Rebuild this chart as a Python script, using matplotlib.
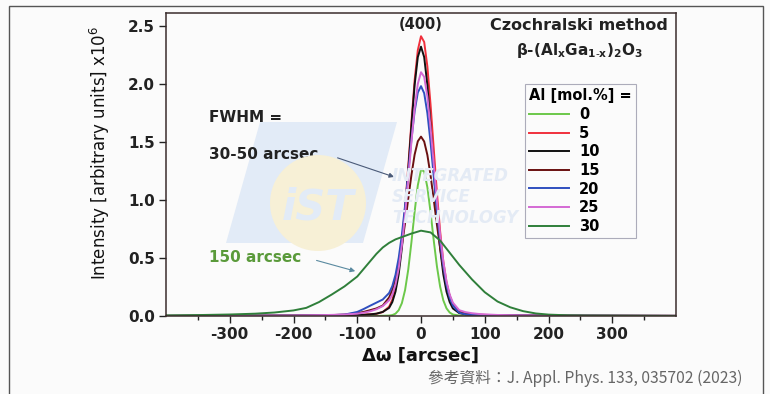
import matplotlib
matplotlib.use("Agg")
import matplotlib.pyplot as plt
from matplotlib.patches import Rectangle, Polygon, Ellipse

plt.rcParams['font.family'] = ['DejaVu Sans']

# ---------------- data ----------------
x_narrow = [-400, -300, -200, -150, -120, -100, -90, -80, -70, -60, -50, -45, -40, -35,
            -30, -25, -20, -15, -10, -5, 0, 5, 10, 15, 20, 25, 30, 35, 40, 45, 50,
            60, 70, 80, 90, 100, 120, 150, 200, 300, 400]

al_0 = [0, 0, 0.001, 0.001, 0.001, 0.001, 0.001, 0.001, 0.001, 0.002, 0.004, 0.008, 0.02, 0.05,
        0.111, 0.223, 0.40, 0.636, 0.898, 1.126, 1.26, 1.245, 1.109, 0.894, 0.65, 0.427, 0.253, 0.135, 0.066, 0.03, 0.013,
        0.004, 0.002, 0.001, 0.001, 0.001, 0.001, 0.001, 0.001, 0, 0]
al_5 = [0.001, 0.002, 0.003, 0.005, 0.007, 0.010, 0.012, 0.015, 0.019, 0.034, 0.08, 0.14, 0.24, 0.40,
        0.63, 0.93, 1.29, 1.67, 2.03, 2.29, 2.41, 2.36, 2.15, 1.82, 1.44, 1.06, 0.73, 0.47, 0.29, 0.17, 0.10,
        0.04, 0.022, 0.015, 0.012, 0.010, 0.007, 0.005, 0.003, 0.002, 0.001]
al_10 = [0.001, 0.002, 0.003, 0.004, 0.006, 0.008, 0.010, 0.014, 0.020, 0.035, 0.07, 0.12, 0.21, 0.36,
         0.585, 0.89, 1.255, 1.64, 1.99, 2.23, 2.32, 2.23, 1.99, 1.64, 1.255, 0.89, 0.585, 0.36, 0.21, 0.12, 0.065,
         0.025, 0.015, 0.011, 0.009, 0.007, 0.005, 0.004, 0.003, 0.002, 0.001]
al_15 = [0.001, 0.002, 0.003, 0.006, 0.012, 0.025, 0.035, 0.05, 0.065, 0.09, 0.16, 0.225, 0.32, 0.45,
         0.61, 0.80, 1.01, 1.215, 1.39, 1.505, 1.545, 1.503, 1.387, 1.211, 1.002, 0.786, 0.584, 0.411, 0.274, 0.173, 0.103,
         0.035, 0.015, 0.009, 0.007, 0.006, 0.005, 0.004, 0.003, 0.002, 0.001]
al_20 = [0.001, 0.002, 0.003, 0.005, 0.012, 0.035, 0.06, 0.088, 0.115, 0.142, 0.198, 0.258, 0.355, 0.50,
         0.70, 0.95, 1.234, 1.52, 1.763, 1.925, 1.98, 1.919, 1.747, 1.495, 1.201, 0.907, 0.643, 0.428, 0.268, 0.158, 0.09,
         0.028, 0.014, 0.01, 0.008, 0.006, 0.005, 0.004, 0.003, 0.002, 0.001]
al_25 = [0.001, 0.002, 0.004, 0.008, 0.013, 0.02, 0.028, 0.04, 0.058, 0.085, 0.135, 0.185, 0.27, 0.41,
         0.61, 0.87, 1.18, 1.50, 1.79, 2.00, 2.10, 2.06, 1.89, 1.62, 1.31, 0.99, 0.70, 0.47, 0.30, 0.185, 0.115,
         0.05, 0.033, 0.024, 0.018, 0.014, 0.009, 0.006, 0.004, 0.002, 0.001]

x_broad = [-400, -350, -300, -260, -230, -200, -180, -160, -140, -120, -100, -80, -70, -60, -50, -40, -30, -15,
           0, 15, 30, 45, 60, 80, 100, 120, 140, 160, 180, 200, 230, 260, 300, 350, 400]
al_30 = [0.005, 0.008, 0.013, 0.02, 0.03, 0.048, 0.07, 0.12, 0.185, 0.255, 0.34, 0.47, 0.535, 0.59, 0.63, 0.66, 0.68, 0.71,
         0.735, 0.72, 0.65, 0.545, 0.44, 0.315, 0.205, 0.125, 0.075, 0.042, 0.022, 0.012, 0.006, 0.004, 0.003, 0.002, 0.001]

labels = ['0', '5', '10', '15', '20', '25', '30']
colors = ['#6cc84a', '#f0303c', '#111111', '#6a1010', '#2f4fbf', '#d46ad4', '#2f7f3a']
x_ticks = [-300, -200, -100, 0, 100, 200, 300]
y_ticks = [0.0, 0.5, 1.0, 1.5, 2.0, 2.5]

# ---------------- figure ----------------
W, H = 770, 394
fig = plt.figure(figsize=(W / 100, H / 100), dpi=100)
fig.patch.set_facecolor('#fbfbfb')

def fx(px):
    return px / W

def fy(py):
    return 1 - py / H

# outer frame
fig.add_artist(Rectangle((fx(9), fy(400)), fx(763) - fx(9), fy(6) - fy(400),
                         transform=fig.transFigure, fill=False, edgecolor='#555555', lw=1.0))

ax = fig.add_axes([fx(166), fy(316), fx(676) - fx(166), fy(13) - fy(316)])
ax.set_facecolor('none')

# faint watermark
fig.add_artist(Polygon([(fx(260), fy(122)), (fx(397), fy(122)), (fx(363), fy(243)), (fx(226), fy(243))],
                       closed=True, transform=fig.transFigure, facecolor='#e2ebf7', edgecolor='none', zorder=0))
fig.add_artist(Ellipse((fx(318), fy(203)), 96 / W, 96 / H, transform=fig.transFigure,
                       facecolor='#f7f0d6', edgecolor='none', zorder=0.5))
fig.text(fx(318), fy(207), 'iST', fontsize=30, fontweight='bold', style='italic', color='#e2ebf7',
         ha='center', va='center', zorder=0.6)
for txt, yy in [('INTEGRATED', 176), ('SERVICE', 197), ('TECHNOLOGY', 218)]:
    fig.text(fx(392), fy(yy), txt, fontsize=12, fontweight='bold', style='italic', color='#e4ebf5',
             ha='left', va='center', zorder=0.6)

series = [al_0, al_5, al_10, al_15, al_20, al_25]
for vals, lab, c in zip(series, labels[:6], colors[:6]):
    ax.plot(x_narrow, vals, color=c, lw=1.4, label=lab)
ax.plot(x_broad, al_30, color=colors[6], lw=1.4, label=labels[6])

ax.set_xlim(-400, 400)
ax.set_ylim(0, 2.61)
ax.set_xticks(x_ticks)
ax.set_xticklabels([str(t) for t in x_ticks])
ax.set_xticks(range(-350, 400, 100), minor=True)
ax.set_yticks(y_ticks)
ax.set_yticklabels([f'{t:.1f}' for t in y_ticks])
ax.tick_params(axis='both', which='major', direction='out', length=5, width=1.0,
               labelsize=11, pad=3, colors='#222222')
ax.tick_params(axis='x', which='minor', direction='out', length=3, width=1.0, colors='#222222')
for lab in ax.get_xticklabels() + ax.get_yticklabels():
    lab.set_fontweight('bold')
for sp in ax.spines.values():
    sp.set_color('#3a2c2c')
    sp.set_linewidth(1.1)

ax.set_xlabel('Δω [arcsec]', fontsize=13, fontweight='bold', labelpad=3, color='#111111')
ax.set_ylabel('Intensity [arbitrary units] x10$^6$', fontsize=12, color='#111111')
ax.yaxis.set_label_coords(-0.106, 0.54)

ax.text(0, 2.51, '(400)', fontsize=10.5, fontweight='bold', ha='center', va='center', color='#222222')
fig.text(fx(668), fy(26), 'Czochralski method', fontsize=11.5, fontweight='bold', ha='right', va='center',
         color='#222222')
fig.text(fx(579), fy(50), r'β-(Al$_\mathbf{x}$Ga$_\mathbf{1\text{-}x}$)$_\mathbf{2}$O$_\mathbf{3}$',
         fontsize=11, fontweight='bold', ha='center', va='center', color='#222222')

ax.text(-332, 1.714, 'FWHM =', fontsize=11, fontweight='bold', ha='left', va='center', color='#222222')
ax.text(-332, 1.387, '30-50 arcsec', fontsize=11, fontweight='bold', ha='left', va='center', color='#222222')
ax.text(-332, 0.508, '150 arcsec', fontsize=11, fontweight='bold', ha='left', va='center', color='#5a9a3a')
ax.annotate('', xy=(-38, 1.19), xytext=(-135, 1.37),
            arrowprops=dict(arrowstyle='-|>', color='#4a5a78', lw=0.8, mutation_scale=7))
ax.annotate('', xy=(-99, 0.38), xytext=(-168, 0.485),
            arrowprops=dict(arrowstyle='-|>', color='#5a8aa0', lw=0.8, mutation_scale=7))

leg = ax.legend(loc='upper left', bbox_to_anchor=((525 - 166) / 510, (316 - 84) / 303),
                borderaxespad=0, title='Al [mol.%] =', fontsize=10.5, title_fontsize=10.5,
                handlelength=2.7, handletextpad=0.7, labelspacing=0.25, borderpad=0.3,
                frameon=True, fancybox=False, edgecolor='#9999aa', facecolor='none')
leg.get_frame().set_linewidth(0.8)
leg.get_title().set_fontweight('bold')
leg._legend_box.align = 'left'
for t in leg.get_texts():
    t.set_fontweight('bold')

fig.text(fx(743), fy(378), '參考資料：J. Appl. Phys. 133, 035702 (2023)', fontsize=11.3, ha='right', va='center',
         color='#666666', family=['Noto Sans CJK TC', 'DejaVu Sans'])

fig.savefig('out.png', dpi=100, facecolor=fig.get_facecolor())
